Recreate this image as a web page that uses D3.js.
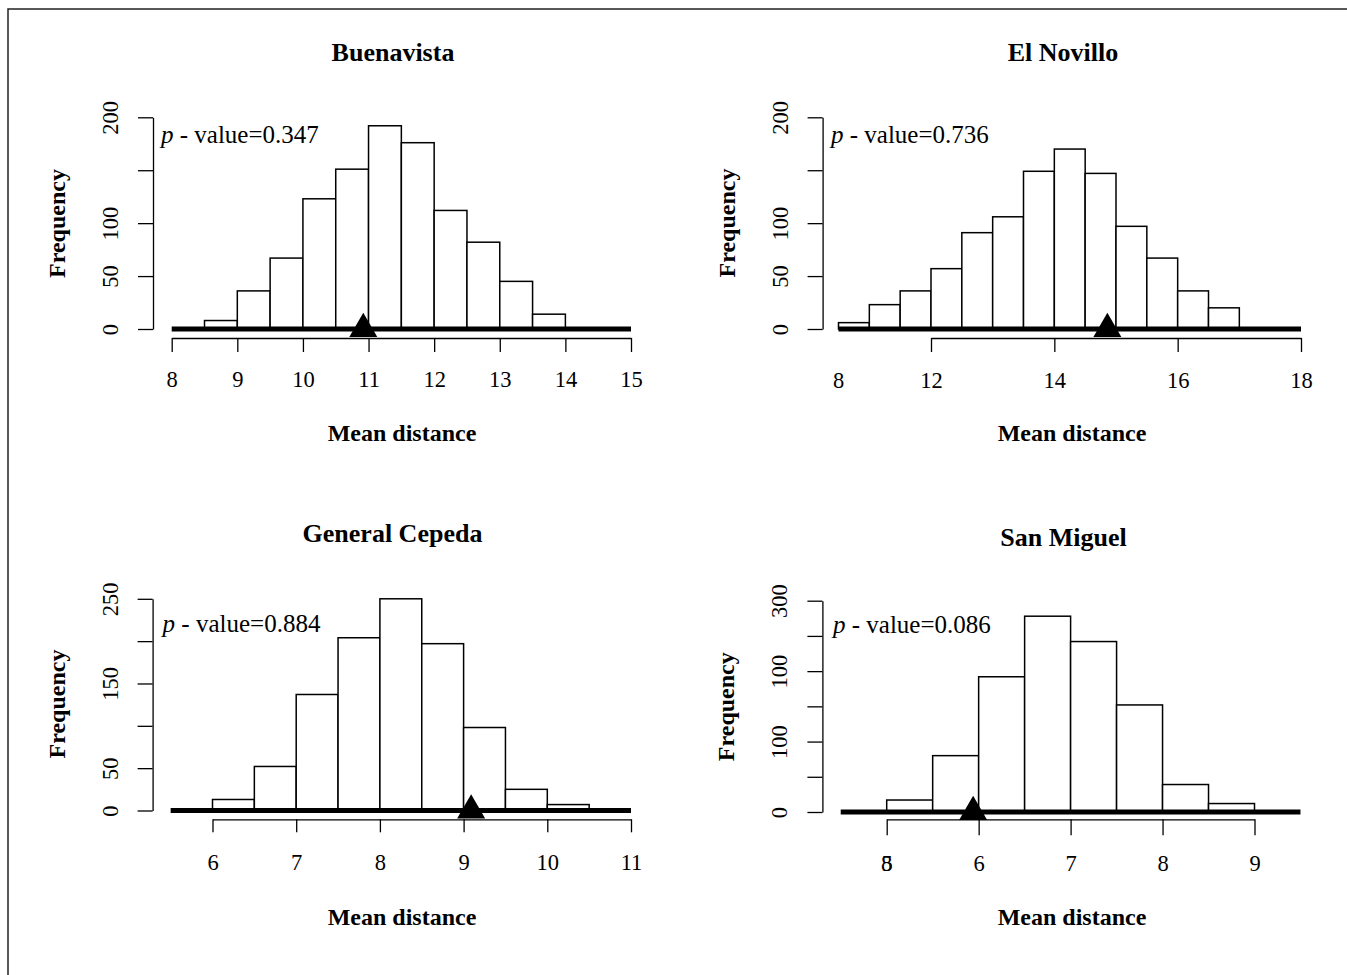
<!DOCTYPE html>
<html>
<head>
<meta charset="utf-8">
<script src="https://cdn.jsdelivr.net/npm/d3@7"></script>
<style>
  body { margin: 0; background: #fff; }
  text { font-family: "Liberation Serif", "DejaVu Serif", serif; fill: #000; }
</style>
</head>
<body>
<script>
// panel titles and p-values
const titles = ["Buenavista", "El Novillo", "General Cepeda", "San Miguel"];
const pValues = ["0.347", "0.736", "0.884", "0.086"];

// histogram counts (bins of width 0.5)
const binWidth = 0.5;
const binStarts = [8.5, 10.5, 6, 5];
const buenavistaCounts = [8, 36, 67, 123, 151, 192, 176, 112, 82, 45, 14];
const elNovilloCounts = [6, 23, 36, 57, 91, 106, 149, 170, 147, 97, 67, 36, 20];
const generalCepedaCounts = [13, 52, 137, 204, 250, 197, 98, 25, 7];
const sanMiguelCounts = [17, 80, 192, 278, 242, 152, 39, 12];
const counts = [buenavistaCounts, elNovilloCounts, generalCepedaCounts, sanMiguelCounts];

// observed mean distance (triangle)
const observedMeans = [10.92, 14.86, 9.09, 5.94];

// axis ticks
const xTickValues = [[8, 9, 10, 11, 12, 13, 14, 15], [12, 14, 16, 18], [6, 7, 8, 9, 10, 11], [5, 6, 7, 8, 9]];
const xExtraLabels = [[], [[10.5, "8"]], [], [[5, "8"]]];
const yTickValues = [
  [0, 50, 100, 150, 200],
  [0, 50, 100, 150, 200],
  [0, 50, 100, 150, 200, 250],
  [0, 50, 100, 150, 200, 250, 300]
];
const yTickLabels = [
  ["0", "50", "100", "", "200"],
  ["0", "50", "100", "", "200"],
  ["0", "50", "", "150", "", "250"],
  ["0", "", "100", "", "100", "", "300"]
];
// thick zero line extent
const baseLineExtent = [[8, 15], [10.5, 18], [5.5, 11], [4.5, 9.5]];

const W = 1347, H = 975;
const svg = d3.select("body").append("svg").attr("width", W).attr("height", H);

// frame (top and left edges)
svg.append("path")
    .attr("d", `M8,${H} L8,9 L${W},9`)
    .attr("fill", "none")
    .attr("stroke", "#222")
    .attr("stroke-width", 1.5);

const layout = [
  {x0: 171.7, x1: 631, y0: 329, y1: 117.3, axisY: 338, tickLen: 14, labelY: 379.5, yAxisX: 153,
   title: [393, 52], xlab: [402, 433], pval: [161, 143], ylabY: 223.5},
  {x0: 931, x1: 1301, y0: 329, y1: 117.3, axisY: 338, tickLen: 14, labelY: 380, yAxisX: 822.6,
   title: [1063, 52], xlab: [1072, 433], pval: [831, 143], ylabY: 223},
  {x0: 212.5, x1: 631, y0: 810.5, y1: 598.8, axisY: 819.3, tickLen: 13, labelY: 861.7, yAxisX: 152.6,
   title: [392.5, 533], xlab: [402, 916.7], pval: [162.6, 632], ylabY: 704},
  {x0: 886.7, x1: 1254.5, y0: 812, y1: 600.7, axisY: 819.3, tickLen: 16, labelY: 863, yAxisX: 822.4,
   title: [1063.5, 536.7], xlab: [1072, 916.7], pval: [833, 633], ylabY: 706.7}
];

titles.forEach((title, i) => {
    const L = layout[i];
    const xt = xTickValues[i];
    const yt = yTickValues[i];

    const x = d3.scaleLinear().domain([xt[0], xt[xt.length - 1]]).range([L.x0, L.x1]);
    const y = d3.scaleLinear().domain([0, yt[yt.length - 1]]).range([L.y0, L.y1]);

    const g = svg.append("g").attr("class", "panel");

    // bars
    const bins = counts[i].map((c, k) => ({start: binStarts[i] + k * binWidth, count: c}));
    g.selectAll(".bar")
        .data(bins)
        .enter().append("rect")
        .attr("class", "bar")
        .attr("x", d => x(d.start))
        .attr("width", d => x(d.start + binWidth) - x(d.start))
        .attr("y", d => y(d.count))
        .attr("height", d => y(0) - y(d.count))
        .attr("fill", "#fff")
        .attr("stroke", "#000")
        .attr("stroke-width", 1.5);

    // thick zero line
    g.append("line")
        .attr("x1", x(baseLineExtent[i][0]))
        .attr("x2", x(baseLineExtent[i][1]))
        .attr("y1", y(0))
        .attr("y2", y(0))
        .attr("stroke", "#000")
        .attr("stroke-width", 5);

    // observed value
    g.append("path")
        .attr("d", d3.symbol(d3.symbolTriangle, 340)())
        .attr("transform", `translate(${x(observedMeans[i])},${y(0)})`)
        .attr("fill", "#000");

    // x axis
    const xAxis = g.append("g")
        .attr("transform", `translate(0,${L.axisY})`)
        .call(d3.axisBottom(x).tickValues(xt).tickSize(L.tickLen).tickSizeOuter(0).tickFormat(d3.format("d")));
    xAxis.select(".domain").attr("stroke", "#000").attr("stroke-width", 1.3);
    xAxis.selectAll(".tick line").attr("stroke", "#000").attr("stroke-width", 1.3);
    xAxis.selectAll(".tick text")
        .attr("y", L.labelY - L.axisY)
        .attr("dy", "0.35em")
        .style("font-family", "Liberation Serif")
        .style("font-size", "22.5px");

    g.selectAll(".xextra")
        .data(xExtraLabels[i])
        .enter().append("text")
        .attr("class", "xextra")
        .attr("x", d => x(d[0]))
        .attr("y", L.labelY)
        .attr("dy", "0.35em")
        .attr("text-anchor", "middle")
        .style("font-size", "22.5px")
        .text(d => d[1]);

    // y axis
    const yAxis = g.append("g")
        .attr("transform", `translate(${L.yAxisX},0)`)
        .call(d3.axisLeft(y).tickValues(yt).tickSize(15).tickSizeOuter(0)
            .tickFormat((d, k) => yTickLabels[i][k]));
    yAxis.select(".domain").attr("stroke", "#000").attr("stroke-width", 1.3);
    yAxis.selectAll(".tick line").attr("stroke", "#000").attr("stroke-width", 1.3);
    yAxis.selectAll(".tick text")
        .attr("transform", "rotate(-90)")
        .attr("x", 0)
        .attr("y", -35)
        .attr("dy", 0)
        .attr("text-anchor", "middle")
        .style("font-family", "Liberation Serif")
        .style("font-size", "22.5px");

    // title
    g.append("text")
        .attr("x", L.title[0])
        .attr("y", L.title[1])
        .attr("dy", "0.35em")
        .attr("text-anchor", "middle")
        .style("font-size", "26px")
        .style("font-weight", "bold")
        .text(title);

    // axis labels
    g.append("text")
        .attr("x", L.xlab[0])
        .attr("y", L.xlab[1])
        .attr("dy", "0.35em")
        .attr("text-anchor", "middle")
        .style("font-size", "24px")
        .style("font-weight", "bold")
        .text("Mean distance");

    g.append("text")
        .attr("transform", `translate(${L.yAxisX - 88},${L.ylabY}) rotate(-90)`)
        .attr("text-anchor", "middle")
        .style("font-size", "24px")
        .style("font-weight", "bold")
        .text("Frequency");

    // p-value
    const pt = g.append("text")
        .attr("x", L.pval[0])
        .attr("y", L.pval[1])
        .style("font-size", "25px");
    pt.append("tspan").style("font-style", "italic").text("p");
    pt.append("tspan").text(" - value=" + pValues[i]);
});
</script>
</body>
</html>
